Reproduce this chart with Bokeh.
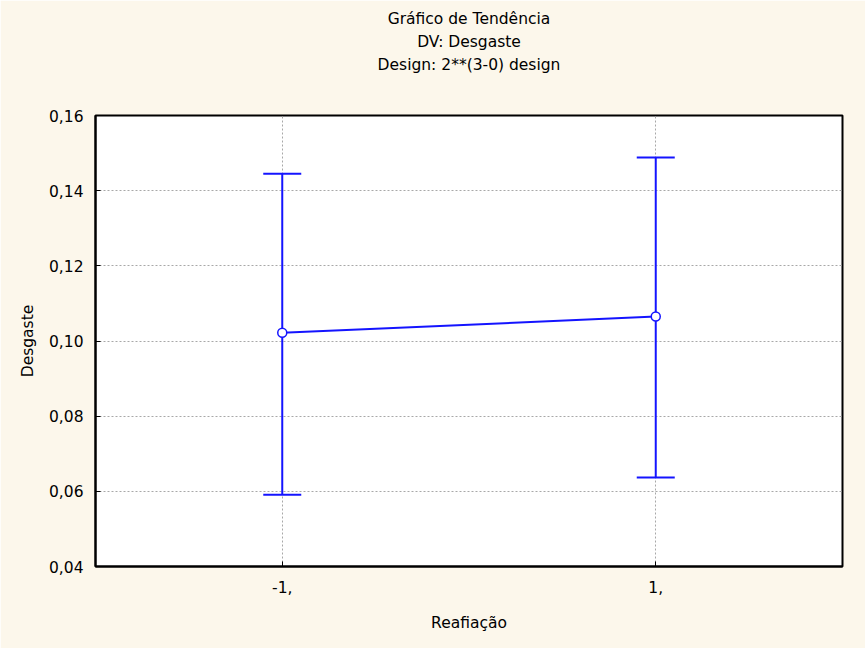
from bokeh.plotting import figure
from bokeh.models import Title, Whisker, TeeHead, ColumnDataSource, FixedTicker
from bokeh.embed import file_html
from bokeh.resources import INLINE

# ---- data ----
title_lines = ["Gráfico de Tendência", "DV: Desgaste", "Design: 2**(3-0) design"]
x_label = "Reafiação"
y_label = "Desgaste"
levels = [-1, 1]
level_labels = ["-1,", "1,"]
means = [0.1022, 0.1065]
upper = [0.1445, 0.1488]
lower = [0.0591, 0.0637]
y_ticks = [0.04, 0.06, 0.08, 0.10, 0.12, 0.14, 0.16]
y_tick_labels = ["0,04", "0,06", "0,08", "0,10", "0,12", "0,14", "0,16"]

FONT = "DejaVu Sans"
FS = "15.5px"
BLUE = "#1414ff"
BG = "#fcf7eb"

p = figure(width=865, height=648, x_range=(-2, 2), y_range=(0.04, 0.16),
           output_backend="svg", toolbar_location=None,
           background_fill_color="white", border_fill_color=BG,
           min_border_left=95, min_border_right=23, min_border_bottom=82,
           min_border_top=115)
p.outline_line_color = "black"
p.outline_line_width = 2

# spacer between frame and the title block, then the three title lines (closest first)
p.add_layout(Title(text=" ", align="center", text_font=FONT, text_font_size=FS,
                   standoff=20), "above")
for txt in reversed(title_lines):
    p.add_layout(Title(text=txt, align="center", text_font=FONT, text_font_size=FS,
                       text_font_style="normal", text_color="black", standoff=3), "above")

src = ColumnDataSource(dict(x=levels, m=means, up=upper, lo=lower))

# axes
p.xaxis.ticker = FixedTicker(ticks=levels)
p.xaxis.major_label_overrides = {v: l for v, l in zip(levels, level_labels)}
p.yaxis.ticker = FixedTicker(ticks=y_ticks)
p.yaxis.major_label_overrides = {v: l for v, l in zip(y_ticks, y_tick_labels)}
p.xaxis.axis_label = x_label
p.yaxis.axis_label = y_label
for ax in (p.xaxis[0], p.yaxis[0]):
    ax.axis_line_color = "black"
    ax.axis_line_width = 2
    ax.major_tick_in = 5
    ax.major_tick_out = 0
    ax.major_tick_line_color = "black"
    ax.minor_tick_line_color = None
    ax.major_label_text_font = FONT
    ax.major_label_text_font_size = FS
    ax.major_label_text_color = "black"
    ax.axis_label_text_font = FONT
    ax.axis_label_text_font_size = FS
    ax.axis_label_text_font_style = "normal"
    ax.axis_label_text_color = "black"
p.yaxis.major_label_standoff = 12
p.yaxis.axis_label_standoff = 9
p.xaxis.major_label_standoff = 14
p.xaxis.axis_label_standoff = 18

p.xgrid.ticker = FixedTicker(ticks=levels)
p.ygrid.ticker = FixedTicker(ticks=y_ticks)
for g in (p.xgrid[0], p.ygrid[0]):
    g.grid_line_color = "#a8a8a8"
    g.grid_line_dash = "2 2"
    g.grid_line_width = 1

# error bars
head_u = TeeHead(size=38, line_color=BLUE, line_width=2)
head_l = TeeHead(size=38, line_color=BLUE, line_width=2)
w = Whisker(source=src, base="x", upper="up", lower="lo", dimension="height",
            line_color=BLUE, line_width=2, upper_head=head_u, lower_head=head_l)
p.add_layout(w)

p.line("x", "m", source=src, line_color=BLUE, line_width=2)
p.scatter("x", "m", source=src, size=9, marker="circle", fill_color="white",
          line_color=BLUE, line_width=1.5)

open("out.html", "w").write(file_html(p, INLINE))
